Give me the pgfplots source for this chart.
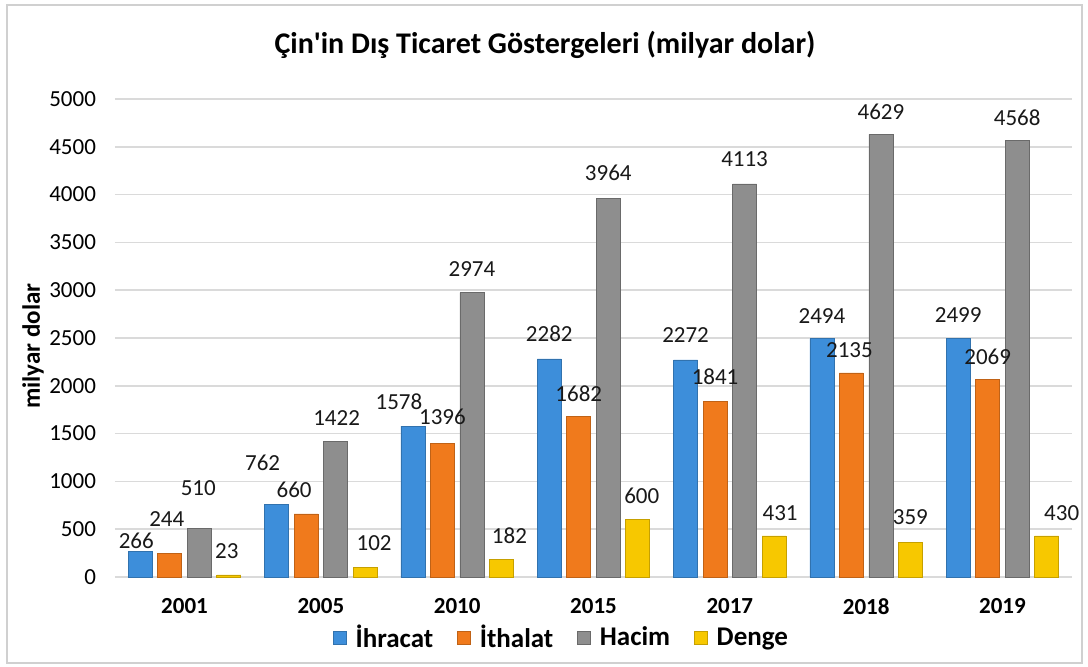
\documentclass[border=0pt]{standalone}
\usepackage{fontspec}
\setmainfont{Carlito}
\setsansfont{Carlito}
\usepackage{pgfplots}
\usepackage{pgfplotstable}
\pgfplotsset{compat=1.18}

\definecolor{cIhr}{HTML}{3D8EDA}
\definecolor{cIth}{HTML}{F07A1C}
\definecolor{cHac}{HTML}{8E8E8E}
\definecolor{cDen}{HTML}{F7C800}
\definecolor{framecol}{HTML}{D0D0D0}
\definecolor{gridcol}{HTML}{DADADA}

% x = year index, y = value, dx/dy = label offset in px
\pgfplotstableread{
x y dx dy
0 266 -4 11
1 762 -14 41
2 1578 -14 24
3 2282 0 25
4 2272 0 25
5 2494 0 23
6 2499 0 23
}\ihracat
\pgfplotstableread{
x y dx dy
0 244 -3 35
1 660 -12 24
2 1396 0 27
3 1682 0 22
4 1841 0 24
5 2135 -2 23
6 2069 0 22
}\ithalat
\pgfplotstableread{
x y dx dy
0 510 -1 40
1 1422 1 23
2 2974 0 24
3 3964 0 25
4 4113 0 25
5 4629 0 23
6 4568 0 23
}\hacim
\pgfplotstableread{
x y dx dy
0 23 -2 24
1 102 9 24
2 182 8 24
3 600 4 24
4 431 6 23
5 359 0 26
6 430 15 23
}\denge

\begin{document}
\begin{tikzpicture}
  \useasboundingbox (-57.5pt,-44.5pt) rectangle (486.5pt,288.5pt);
  \draw[framecol, line width=0.8pt, fill=white] (-54pt,-43pt) rectangle (483.5pt,286pt);

  \begin{axis}[
      at={(0,0)}, anchor=south west,
      scale only axis,
      width=478.5pt, height=239pt,
      ybar=2.75pt,
      bar width=12pt,
      xmin=-0.51, xmax=6.51,
      ymin=0, ymax=5000,
      ytick distance=500,
      xtick=data,
      xticklabels={2001,2005,2010,2015,2017,2018,2019},
      xticklabel style={font=\fontsize{11.5}{13}\selectfont\bfseries, yshift=-3pt},
      yticklabel style={font=\fontsize{11.5}{13}\selectfont, xshift=-6pt},
      /pgf/number format/.cd, 1000 sep={}, assume math mode=true, /pgfplots/.cd,
      axis line style={draw=none},
      major tick style={draw=none},
      xmajorgrids=false,
      ymajorgrids=true,
      y grid style={draw=gridcol, line width=0.8pt},
      ylabel={milyar dolar},
      ylabel style={font=\fontsize{12.5}{14}\selectfont\bfseries, at={(axis description cs:-0.0857,0.483)}, anchor=center},
      nodes near coords,
      every node near coord/.append style={font=\fontsize{11.5}{13}\selectfont, text=black!90, anchor=center,
        xshift={\dx*0.5pt}, yshift={\dy*0.5pt}},
      visualization depends on={\thisrow{dx} \as \dx},
      visualization depends on={\thisrow{dy} \as \dy},
      legend columns=4,
      legend style={at={(0.4676,-0.1276)}, anchor=center, draw=none, fill=none,
        font=\fontsize{13.5}{15}\selectfont\bfseries,
        /tikz/every odd column/.append style={column sep=2.5pt},
        /tikz/every even column/.append style={column sep=10pt}},
      legend image code/.code={\path[#1] (0pt,-3.25pt) rectangle (6.5pt,3.25pt);},
      clip=false,
    ]
    \addplot[draw=cIhr!80!black, line width=0.3pt, fill=cIhr] table[x=x, y=y] {\ihracat};
    \addplot[draw=cIth!80!black, line width=0.3pt, fill=cIth] table[x=x, y=y] {\ithalat};
    \addplot[draw=cHac!75!black, line width=0.3pt, fill=cHac] table[x=x, y=y] {\hacim};
    \addplot[draw=cDen!80!black, line width=0.3pt, fill=cDen] table[x=x, y=y] {\denge};
    \legend{İhracat, İthalat, Hacim, Denge}
  \end{axis}

  \node[font=\fontsize{15}{18}\selectfont\bfseries] at (215pt,266pt)
    {Çin\textquotesingle in Dış Ticaret Göstergeleri (milyar dolar)};
\end{tikzpicture}
\end{document}
